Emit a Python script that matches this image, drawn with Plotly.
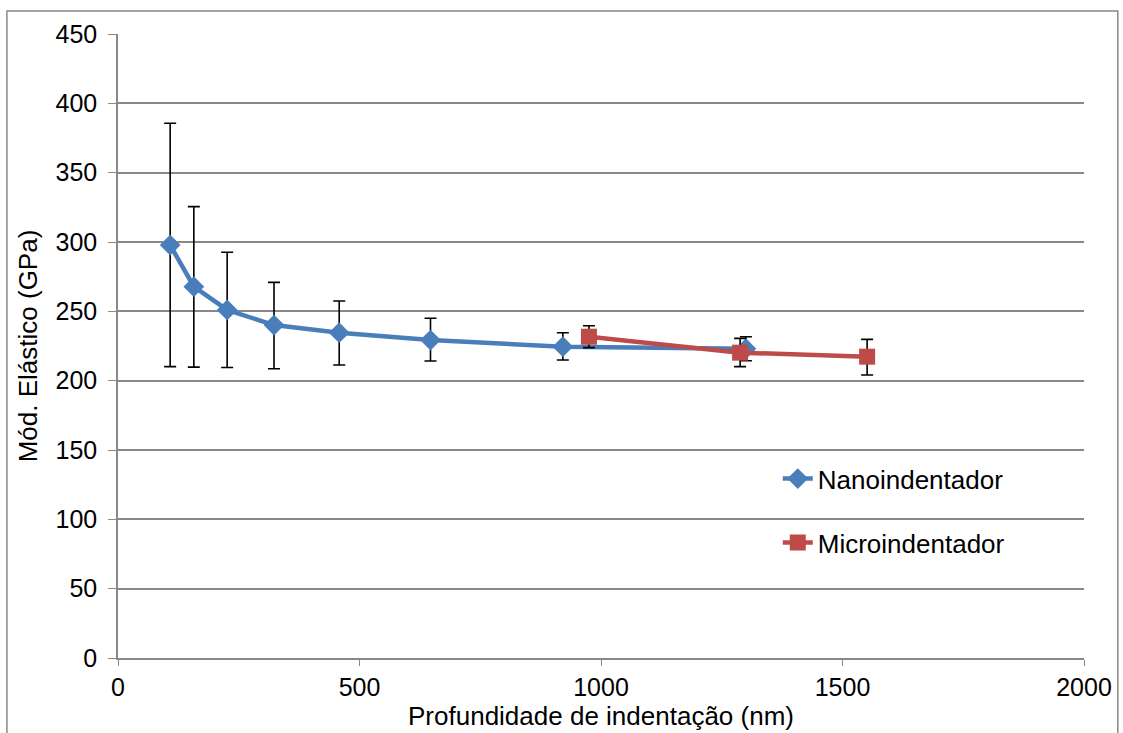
import plotly.graph_objects as go

nano_x = [108, 157, 226, 323, 458, 647, 921, 1300]
nano_y = [297.8, 267.8, 251.0, 240.1, 234.6, 229.3, 224.5, 223.0]
nano_err_plus = [87.8, 57.7, 41.6, 30.8, 22.8, 15.7, 10.1, 8.7]
nano_err_minus = [87.7, 58.0, 41.5, 31.5, 23.3, 15.1, 9.6, 8.6]

micro_x = [975, 1288, 1551]
micro_y = [231.7, 220.2, 217.3]
micro_err_plus = [7.9, 10.3, 12.5]
micro_err_minus = [7.9, 10.1, 13.2]

x_ticks = [0, 500, 1000, 1500, 2000]
y_ticks = [0, 50, 100, 150, 200, 250, 300, 350, 400, 450]

font = "Liberation Sans, Arial, sans-serif"
grid = "#888888"
fs = 25
fs_t = 26

fig = go.Figure()
fig.add_trace(go.Scatter(
    x=nano_x, y=nano_y, name="Nanoindentador", mode="lines+markers",
    legendgroup="a",
    line=dict(color="#4A7EBB", width=4.5),
    marker=dict(symbol="diamond", size=16, color="#4A7EBB"),
    error_y=dict(type="data", symmetric=False, array=nano_err_plus,
                 arrayminus=nano_err_minus, color="black", thickness=1.6, width=6),
))
fig.add_trace(go.Scatter(
    x=micro_x, y=micro_y, name="Microindentador", mode="lines+markers",
    legendgroup="b",
    line=dict(color="#BE4B48", width=4.5),
    marker=dict(symbol="square", size=16, color="#BE4B48"),
    error_y=dict(type="data", symmetric=False, array=micro_err_plus,
                 arrayminus=micro_err_minus, color="black", thickness=1.6, width=6),
))

fig.update_layout(
    width=1123, height=733,
    margin=dict(l=118, r=39, t=34, b=75),
    paper_bgcolor="white", plot_bgcolor="white",
    font=dict(family=font, size=fs, color="black"),
    showlegend=True,
    legend=dict(x=0.683, y=0.325, xanchor="left", yanchor="top",
                traceorder="grouped", tracegroupgap=27,
                font=dict(size=fs_t), bgcolor="rgba(0,0,0,0)"),
    xaxis=dict(range=[0, 2000], tickvals=x_ticks, showgrid=False,
               showline=True, linecolor=grid, linewidth=1.5,
               ticks="outside", ticklen=6, tickcolor=grid,
               ticklabelstandoff=0, automargin=False,
               zeroline=False,
               title=dict(text="Profundidade de indentação (nm)", standoff=4,
                          font=dict(size=fs_t))),
    yaxis=dict(range=[0, 450], tickvals=y_ticks, showgrid=True,
               gridcolor=grid, gridwidth=1.5,
               showline=True, linecolor=grid, linewidth=1.5,
               ticks="outside", ticklen=8, tickcolor=grid,
               ticklabelstandoff=6, automargin=False,
               zeroline=False,
               title=dict(text="Mód. Elástico (GPa)", standoff=10,
                          font=dict(size=fs_t))),
    shapes=[dict(type="rect", xref="paper", yref="paper",
                 x0=-0.115, x1=1.035, y0=-0.2, y1=1.037,
                 line=dict(color="#888888", width=1.5), layer="below")],
)

fig.write_html("out.html")
